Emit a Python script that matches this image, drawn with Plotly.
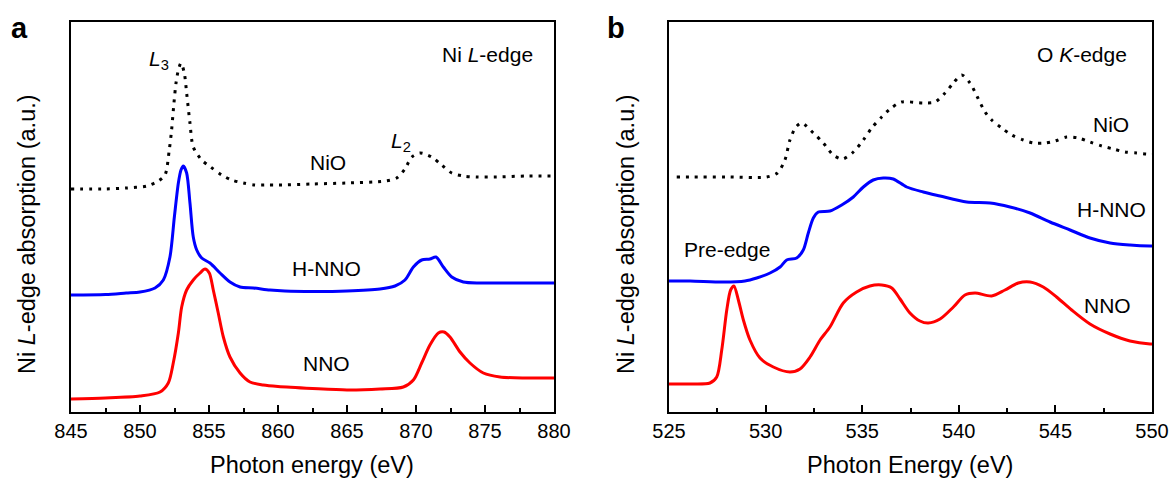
import plotly.graph_objects as go

# ---- Ni L-edge spectra (photon energy in eV, absorption in a.u.) ----
ni_nio_e = [845.0, 847.5, 849.0, 850.49, 851.33, 851.81, 852.12, 852.29, 852.46, 852.61, 852.78,
            852.97, 853.21, 853.38, 853.62, 853.86, 854.47, 855.12, 855.92, 856.64, 857.49,
            858.33, 859.06, 860.0, 862.5, 865.0, 867.75, 868.6, 869.2, 869.69, 870.29, 871.14,
            871.86, 872.59, 873.43, 874.4, 875.85, 878.0, 880.0]
ni_nio_a = [2.23, 2.23, 2.24, 2.26, 2.31, 2.37, 2.62, 2.82, 3.09, 3.29, 3.42,
            3.49, 3.39, 3.19, 2.89, 2.65, 2.52, 2.45, 2.37, 2.32, 2.29,
            2.27, 2.27, 2.27, 2.28, 2.29, 2.31, 2.34, 2.43, 2.55, 2.59, 2.55,
            2.47, 2.39, 2.36, 2.35, 2.35, 2.36, 2.36]

ni_hnno_e = [845.0, 847.5, 849.0, 850.0, 851.09, 851.69, 852.17, 852.49, 852.78, 852.97, 853.14,
             853.38, 853.62, 853.86, 854.11, 854.47, 855.07, 855.8, 856.52, 857.25, 858.21,
             859.42, 860.5, 862.5, 865.0, 867.39, 868.48, 869.2, 869.81, 870.41, 871.01, 871.45,
             871.98, 872.59, 873.43, 874.64, 876.09, 878.0, 880.0]
ni_hnno_a = [1.17, 1.175, 1.19, 1.20, 1.24, 1.32, 1.55, 1.95, 2.29, 2.42, 2.46,
             2.39, 2.09, 1.75, 1.62, 1.54, 1.49, 1.39, 1.30, 1.25, 1.24,
             1.22, 1.21, 1.205, 1.21, 1.23, 1.26, 1.32, 1.45, 1.52, 1.53, 1.55,
             1.45, 1.35, 1.30, 1.29, 1.29, 1.29, 1.29]

ni_nno_e = [845.0, 847.5, 850.0, 851.45, 852.05, 852.41, 852.78, 853.02, 853.38, 853.86,
            854.35, 854.71, 855.02, 855.31, 855.67, 856.04, 856.52, 857.25, 857.97, 858.93,
            860.0, 862.5, 865.0, 867.39, 869.08, 869.81, 870.41, 871.01, 871.62, 872.03,
            872.46, 873.19, 873.91, 874.88, 876.09, 878.0, 880.0]
ni_nno_a = [0.13, 0.14, 0.16, 0.20, 0.29, 0.49, 0.79, 1.05, 1.22, 1.32,
            1.39, 1.43, 1.39, 1.22, 0.99, 0.75, 0.55, 0.39, 0.30, 0.27,
            0.255, 0.235, 0.22, 0.23, 0.25, 0.32, 0.49, 0.67, 0.79, 0.80,
            0.75, 0.60, 0.49, 0.39, 0.35, 0.34, 0.34]

# ---- O K-edge spectra ----
o_nio_e = [525.4, 526.09, 528.0, 530.06, 530.61, 531.0, 531.26, 531.57, 531.87, 532.47, 532.99,
           533.5, 533.99, 534.54, 535.06, 535.49, 536.01, 536.44, 537.04, 538.16, 538.77,
           539.29, 539.72, 540.15, 540.58, 540.96, 541.36, 541.7, 542.22, 542.74, 543.34,
           543.86, 544.46, 544.98, 545.58, 546.19, 546.79, 547.4, 548.0, 548.6, 549.21,
           549.72, 550.0]
o_nio_a = [2.35, 2.35, 2.35, 2.35, 2.39, 2.52, 2.72, 2.85, 2.89, 2.79, 2.69,
           2.57, 2.53, 2.60, 2.72, 2.84, 2.95, 3.03, 3.10, 3.09, 3.10,
           3.19, 3.29, 3.37, 3.29, 3.15, 3.00, 2.92, 2.84, 2.77, 2.72,
           2.69, 2.69, 2.71, 2.75, 2.74, 2.70, 2.66, 2.63, 2.60, 2.59,
           2.58, 2.58]

o_hnno_e = [525.0, 526.09, 527.81, 528.93, 529.54, 530.23, 530.75, 531.09, 531.61, 531.95,
            532.21, 532.47, 532.73, 533.33, 533.94, 534.54, 535.06, 535.57, 536.09, 536.61,
            537.3, 538.16, 539.03, 540.41, 541.62, 542.65, 543.69, 544.72, 545.76, 546.79,
            547.83, 548.86, 549.9, 550.0]
o_hnno_a = [1.31, 1.31, 1.30, 1.31, 1.34, 1.39, 1.45, 1.52, 1.54, 1.62,
            1.79, 1.94, 2.00, 2.01, 2.07, 2.15, 2.25, 2.32, 2.34, 2.33,
            2.25, 2.20, 2.16, 2.10, 2.09, 2.05, 1.99, 1.90, 1.82, 1.74,
            1.69, 1.67, 1.66, 1.66]

o_nno_e = [525.0, 526.09, 527.12, 527.47, 527.73, 527.99, 528.19, 528.36, 528.59, 528.85,
           529.19, 529.71, 530.4, 531.26, 531.78, 532.3, 532.82, 533.33, 534.02, 534.71,
           535.4, 536.01, 536.53, 536.96, 537.47, 537.99, 538.42, 539.03, 539.72, 540.32,
           540.84, 541.7, 542.39, 543.08, 543.69, 544.37, 545.06, 545.84, 546.79, 547.83,
           548.86, 549.9, 550.0]
o_nno_a = [0.28, 0.28, 0.29, 0.35, 0.62, 1.02, 1.22, 1.26, 1.12, 0.92,
           0.72, 0.54, 0.45, 0.40, 0.43, 0.55, 0.72, 0.85, 1.09, 1.20,
           1.26, 1.27, 1.24, 1.13, 0.99, 0.91, 0.89, 0.93, 1.05, 1.17,
           1.19, 1.16, 1.22, 1.29, 1.30, 1.25, 1.15, 1.02, 0.88, 0.78,
           0.71, 0.68, 0.68]

W, H = 1173, 479
FONT = "Liberation Sans, Arial, sans-serif"
BLACK, BLUE, RED = "#000000", "#0000FF", "#FF0000"

fig = go.Figure()


def add_curve(x, y, color, axis, dotted=False):
    fig.add_trace(go.Scatter(
        x=x, y=y, mode="lines", xaxis="x" + axis, yaxis="y" + axis,
        line=dict(color=color, width=3, shape="spline", smoothing=0.8,
                  dash="3px,6px" if dotted else "solid"),
        showlegend=False, hoverinfo="skip"))


add_curve(ni_nio_e, ni_nio_a, BLACK, "", dotted=True)
add_curve(ni_hnno_e, ni_hnno_a, BLUE, "")
add_curve(ni_nno_e, ni_nno_a, RED, "")
add_curve(o_nio_e, o_nio_a, BLACK, "2", dotted=True)
add_curve(o_hnno_e, o_hnno_a, BLUE, "2")
add_curve(o_nno_e, o_nno_a, RED, "2")

ydom = [1 - 412 / H, 1 - 22 / H]


def xaxis_cfg(dom, rng, anchor):
    return dict(domain=dom, range=rng, anchor=anchor, showline=True, linecolor=BLACK,
                linewidth=2, mirror=True, ticks="inside", ticklen=7, tickwidth=1.5,
                tickcolor=BLACK, dtick=5, tick0=rng[0], showgrid=False, zeroline=False,
                automargin=False,
                tickfont=dict(family=FONT, size=20, color=BLACK),
                minor=dict(ticks="inside", ticklen=4, tickwidth=1.5, tickcolor=BLACK,
                           dtick=2.5, tick0=rng[0], showgrid=False))


def yaxis_cfg(anchor):
    return dict(domain=ydom, range=[0, 3.9], anchor=anchor, showline=True, linecolor=BLACK,
                linewidth=2, mirror=True, ticks="", showticklabels=False,
                showgrid=False, zeroline=False, automargin=False)


fig.update_layout(
    width=W, height=H, autosize=False,
    margin=dict(l=0, r=0, t=0, b=0, pad=0, autoexpand=False),
    paper_bgcolor="white", plot_bgcolor="white",
    font=dict(family=FONT, color=BLACK),
    xaxis=xaxis_cfg([71 / W, 554 / W], [845, 880], "y"),
    yaxis=yaxis_cfg("x"),
    xaxis2=xaxis_cfg([669 / W, 1152 / W], [525, 550], "y2"),
    yaxis2=yaxis_cfg("x2"),
)

ann = []


def label(text, x, y, xref, yref, size=21, **kw):
    ann.append(dict(text=text, x=x, y=y, xref=xref, yref=yref, showarrow=False,
                    xanchor="center", yanchor="middle",
                    font=dict(family=FONT, size=size, color=BLACK), **kw))


# panel letters
label("<b>a</b>", 19 / W, 1 - 28 / H, "paper", "paper", size=29)
label("<b>b</b>", 616 / W, 1 - 28 / H, "paper", "paper", size=29)

# axis titles
label("Photon energy (eV)", 312 / W, 1 - 465 / H, "paper", "paper", size=23.5)
label("Photon Energy (eV)", 910 / W, 1 - 465 / H, "paper", "paper", size=23.5)
label("Ni <i>L</i>-edge absorption (a.u.)", 27 / W, 1 - 234 / H, "paper", "paper",
      size=23.5, textangle=-90)
label("Ni <i>L</i>-edge absorption (a.u.)", 626 / W, 1 - 234 / H, "paper", "paper",
      size=23.5, textangle=-90)

# panel a annotations
label("Ni <i>L</i>-edge", 875.2, 3.57, "x", "y")
label("<i>L</i><sub>3</sub>", 851.4, 3.52, "x", "y")
label("<i>L</i><sub>2</sub>", 868.9, 2.70, "x", "y")
label("NiO", 863.6, 2.49, "x", "y")
label("H-NNO", 863.5, 1.44, "x", "y")
label("NNO", 863.5, 0.49, "x", "y")

# panel b annotations
label("O <i>K</i>-edge", 546.4, 3.57, "x2", "y2")
label("NiO", 547.9, 2.87, "x2", "y2")
label("H-NNO", 547.9, 2.02, "x2", "y2")
label("Pre-edge", 528.0, 1.62, "x2", "y2")
label("NNO", 547.7, 1.07, "x2", "y2")

fig.update_layout(annotations=ann)
fig.write_html("out.html")
